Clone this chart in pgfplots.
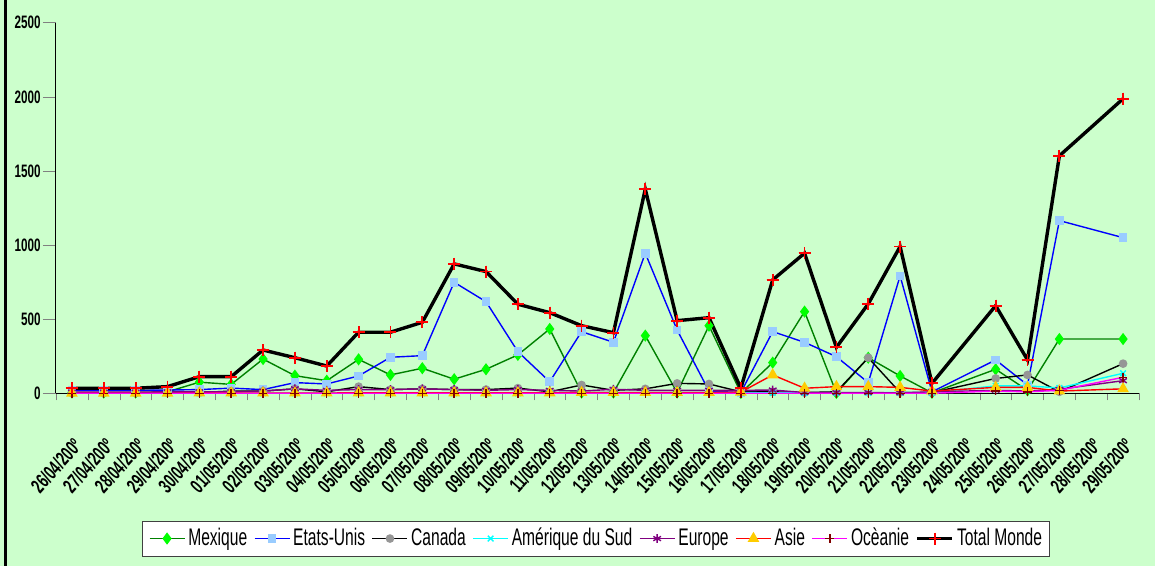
\documentclass[border=0pt]{standalone}
\usepackage{fontspec}
\setmainfont{Liberation Sans}[FakeStretch=0.65]
\usepackage{pgfplots}
\usepackage{pgfplotstable}
\pgfplotsset{compat=1.18}

\definecolor{bggreen}{HTML}{CCFFCC}
\definecolor{mexline}{HTML}{008000}
\definecolor{mexmark}{HTML}{00FF00}
\definecolor{usline}{HTML}{0000FF}
\definecolor{usmark}{HTML}{99CCFF}
\definecolor{canmark}{HTML}{969696}
\definecolor{amcyan}{HTML}{00FFFF}
\definecolor{europ}{HTML}{800080}
\definecolor{asieline}{HTML}{FF0000}
\definecolor{asiemark}{HTML}{FFCC00}
\definecolor{oceline}{HTML}{FF00FF}
\definecolor{ocemark}{HTML}{800000}

% new cases per day, x = day index from 26/04 (24/05 and 28/05 missing)
\pgfplotstableread{
x  mex  us   can  ams  eur  asie oce  total
0  5    20   3    0    8    0    0    34
1  5    20   3    0    8    0    0    34
2  5    20   3    0    8    0    0    34
3  10   22   3    0    10   0    0    45
4  75   25   5    0    10   2    0    112
5  60   35   15   0    10   2    0    112
6  231  25   15   0    15   2    0    292
7  119  72   30   0    30   2    0    240
8  85   63   10   0    20   2    0    184
9  229  117  45   0    25   3    0    412
10 124  243  25   0    25   3    0    412
11 169  254  30   0    30   3    0    479
12 95   749  25   0    25   3    0    873
13 162  618  25   0    20   3    0    821
14 259  281  35   0    25   3    0    601
15 434  78   10   5    20   3    0    544
16 5    416  56   5    15   5    0    456
17 5    344  20   5    27   5    0    409
18 389  945  30   5    20   5    0    1377
19 5    427  67   5    20   5    0    490
20 456  15   63   5    20   5    0    510
21 2    5    10   5    20   8    0    34
22 207  416  10   3    22   124  0    765
23 551  344  5    3    5    34   0    945
24 2    247  10   3    5    45   0    310
25 240  72   240  3    5    45   0    603
26 117  792  5    5    3    40   0    990
27 3    10   5    5    10   15   0    67
29 162  225  100  50   20   40   15   591
30 20   56   124  50   15   40   10   225
31 366  1165 10   36   27   15   20   1602
33 366  1050 200  135  85   30   108  1987
}\data

\begin{document}
\begin{tikzpicture}
\fill[bggreen] (0,0) rectangle (577.5pt,283pt);
\useasboundingbox (0,0) rectangle (577.5pt,283pt);
\draw[line width=1.5pt] (2.75pt,0) -- (2.75pt,283pt);
\begin{axis}[
  at={(28pt,86.35pt)}, anchor=south west,
  scale only axis,
  width=541.5pt, height=185.3pt,
  xmin=-0.5, xmax=33.5,
  ymin=0, ymax=2500,
  axis lines*=left,
  axis line style={black, line width=0.5pt},
  tick align=outside,
  major tick length=6.5pt,
  minor tick length=3.5pt,
  xtick={0,...,33},
  minor xtick={-0.5,0.5,...,33.5},
  major x tick style={draw=none},
  xticklabels={26/04/200º,27/04/200º,28/04/200º,29/04/200º,30/04/200º,01/05/200º,02/05/200º,03/05/200º,04/05/200º,05/05/200º,06/05/200º,07/05/200º,08/05/200º,09/05/200º,10/05/200º,11/05/200º,12/05/200º,13/05/200º,14/05/200º,15/05/200º,16/05/200º,17/05/200º,18/05/200º,19/05/200º,20/05/200º,21/05/200º,22/05/200º,23/05/200º,24/05/200º,25/05/200º,26/05/200º,27/05/200º,28/05/200º,29/05/200º},
  xticklabel style={rotate=48, anchor=north east, font=\bfseries\fontsize{10.2}{11}\selectfont, inner sep=0pt},
  xticklabel shift=15pt,
  ytick={0,500,...,2500},
  yticklabel style={font=\bfseries\fontsize{9}{10}\selectfont, inner sep=1pt},
  /pgf/number format/assume math mode=true,
  /pgf/number format/1000 sep={},
  legend columns=8,
  legend style={at={(0.4986,-0.392)}, anchor=center, draw=black!75, fill=white,
    font=\fontsize{12}{13}\selectfont, inner xsep=3pt, inner ysep=2.5pt,
    nodes={inner xsep=0.5pt, inner ysep=1pt},
    /tikz/every odd column/.append style={column sep=1pt},
    /tikz/every even column/.append style={column sep=2.8pt}},
  legend image code/.code={\draw[mark repeat=2,mark phase=2] plot coordinates {(0pt,0pt) (8.75pt,0pt) (17.5pt,0pt)};},
  every axis plot/.append style={line width=0.7pt},
]
\addplot[mexline, mark=diamond*, mark size=2.5pt, mark options={draw=mexmark, fill=mexmark}] table[x=x, y=mex] {\data};
\addplot[usline, mark=square*, mark size=1.8pt, mark options={draw=usmark, fill=usmark}] table[x=x, y=us] {\data};
\addplot[black, mark=*, mark size=1.8pt, mark options={draw=canmark, fill=canmark}] table[x=x, y=can] {\data};
\addplot[amcyan, mark=x, mark size=2pt, mark options={draw=amcyan}] table[x=x, y=ams] {\data};
\addplot[europ, mark=asterisk, mark size=2.2pt, mark options={draw=europ}] table[x=x, y=eur] {\data};
\addplot[asieline, mark=triangle*, mark size=2.7pt, mark options={draw=asiemark, fill=asiemark}] table[x=x, y=asie] {\data};
\addplot[oceline, mark=+, mark size=2.2pt, mark options={draw=ocemark}] table[x=x, y=oce] {\data};
\addplot[black, line width=1.7pt, mark=+, mark size=3pt, mark options={draw=red, line width=0.9pt}] table[x=x, y=total] {\data};
\addplot[only marks, forget plot, mark=+, mark size=3pt, mark options={draw=red, line width=0.9pt}] table[x=x, y=total] {\data};
\legend{Mexique,Etats-Unis,Canada,Amérique du Sud,Europe,Asie,Ocèanie,Total Monde}
\end{axis}
\end{tikzpicture}
\end{document}
